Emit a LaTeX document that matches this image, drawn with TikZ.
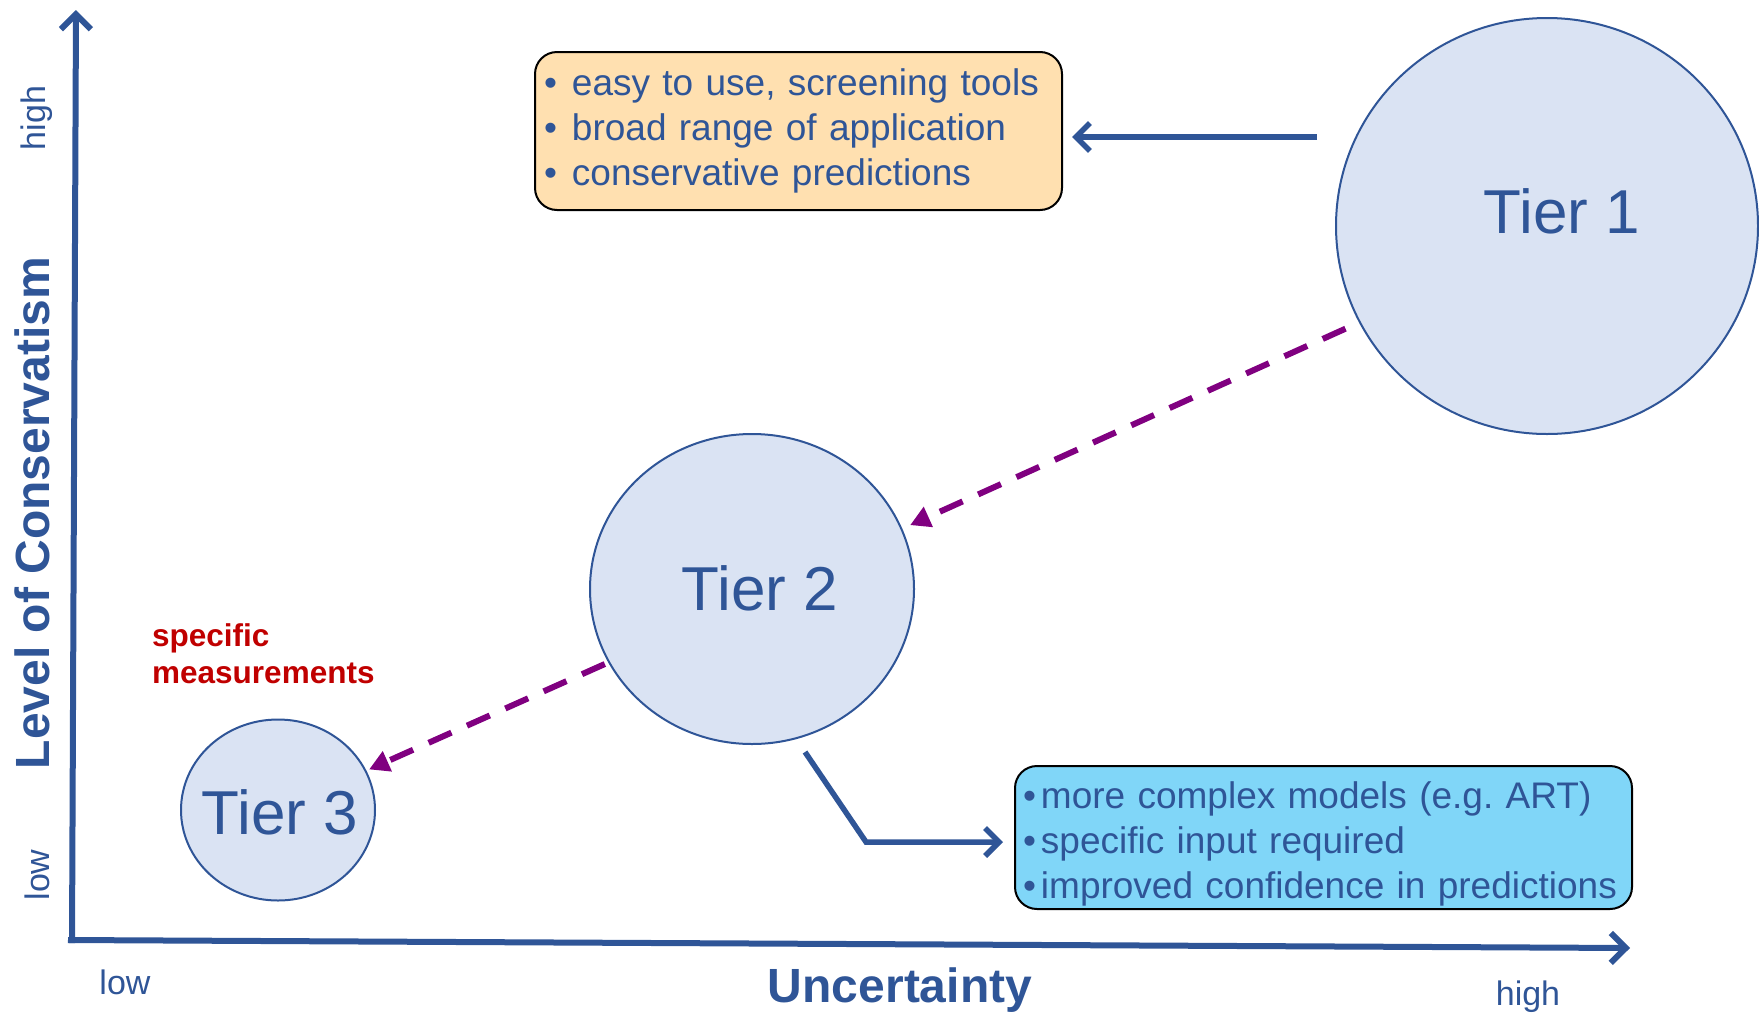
\documentclass[tikz,border=0pt]{standalone}
\usepackage{fontspec}
\setmainfont{Liberation Sans}
\usetikzlibrary{arrows.meta,shapes.geometric,calc}
\definecolor{bluemain}{RGB}{47,85,151}
\definecolor{circfill}{RGB}{218,227,243}
\definecolor{boxorange}{RGB}{255,224,176}
\definecolor{boxcyan}{RGB}{128,214,248}
\definecolor{flowpurple}{RGB}{128,0,128}
\definecolor{redtxt}{RGB}{192,0,0}
\frenchspacing
\begin{document}
\begin{tikzpicture}[x=1pt,y=-1pt,
  tier/.style={ellipse, draw=bluemain, line width=2pt, fill=circfill, inner sep=0pt},
  tierlabel/.style={text=bluemain, font=\fontsize{62}{62}\selectfont, inner sep=0pt},
  axis/.style={draw=bluemain, line width=6pt, -{Straight Barb[length=15pt,width=30pt]}},
  pointer/.style={draw=bluemain, line width=5.5pt, -{Straight Barb[length=14pt,width=28pt]}},
  flow/.style={draw=flowpurple, line width=6pt, dash pattern=on 25pt off 17pt, -{Triangle[length=20pt,width=21pt]}},
  infobox/.style={rounded corners=22pt, draw=black, line width=2pt, align=left, text=bluemain,
    font=\fontsize{37}{45}\selectfont, inner ysep=0pt},
  axlabel/.style={text=bluemain, font=\fontsize{34}{34}\selectfont, inner sep=0pt},
  axtitle/.style={text=bluemain, font=\bfseries\fontsize{48}{48}\selectfont, inner sep=0pt}
]
\useasboundingbox (0,0) rectangle (1759,1015);

% axes
\coordinate (yb) at (72,943);
\coordinate (yt) at (76,10);
\coordinate (xl) at (68,940);
\coordinate (xr) at (1630,948);
\draw[axis] (yb) -- (yt);
\draw[axis] (xl) -- (xr);

\node[axtitle, rotate=90] (ytitle) at (32,513) {Level of Conservatism};
\node[axlabel, rotate=90] (yhigh) at (37,118) {high};
\node[axlabel, rotate=90] (ylow) at (37,875) {low};
\node[axtitle] (xtitle) at (900,990) {Uncertainty};
\node[axlabel] (xlow) at (125,982) {low};
\node[axlabel] (xhigh) at (1528,997) {high};

% tiers
\node[tier, minimum width=422pt, minimum height=416pt] (t1) at (1547,226) {};
\node[tier, minimum width=324pt, minimum height=310pt] (t2) at (752,589) {};
\node[tier, minimum width=194pt, minimum height=181pt] (t3) at (278,810) {};
\node[tierlabel] (t1l) at (1562,211) {Tier 1};
\node[tierlabel] (t2l) at (760,588) {Tier 2};
\node[tierlabel] (t3l) at (280,812) {Tier 3};

% info boxes
\node[infobox, fill=boxorange, inner xsep=9pt, text width=509pt, minimum height=158pt] (box1) at (798.5,131)
 {\makebox[28pt][l]{•}easy to use, screening tools\\
  \makebox[28pt][l]{•}broad range of application\\
  \makebox[28pt][l]{•}conservative predictions};
\node[infobox, fill=boxcyan, inner xsep=8pt, text width=601pt, minimum height=143pt] (box2) at (1323.5,837.5)
 {\rule{0pt}{40pt}\makebox[18pt][l]{•}more complex models (e.g. ART)\\
  \makebox[18pt][l]{•}specific input required\\
  \makebox[18pt][l]{•}improved confidence in predictions};

\node[text=redtxt, font=\bfseries\fontsize{31.5}{37}\selectfont, align=left, inner sep=0pt, anchor=west] (spec) at (152,654)
 {specific\\measurements};

% connectors
\coordinate (p1) at (1317,137);
\draw[pointer, shorten >=9pt] (p1) -- (p1 -| box1.east);
\coordinate (p2) at (805,752);
\coordinate (p2b) at (866,842);
\draw[pointer, shorten >=11pt] (p2) -- (p2b) -- (p2b -| box2.west);

\draw[flow] ($(t1.center)!1.07!(t1.207)$) -- ($(t2.center)!1.053!(t2.22)$);
\draw[flow] ($(t2.center)!1.023!(t2.207)$) -- ($(t3.center)!1.03!(t3.24)$);
\end{tikzpicture}
\end{document}
